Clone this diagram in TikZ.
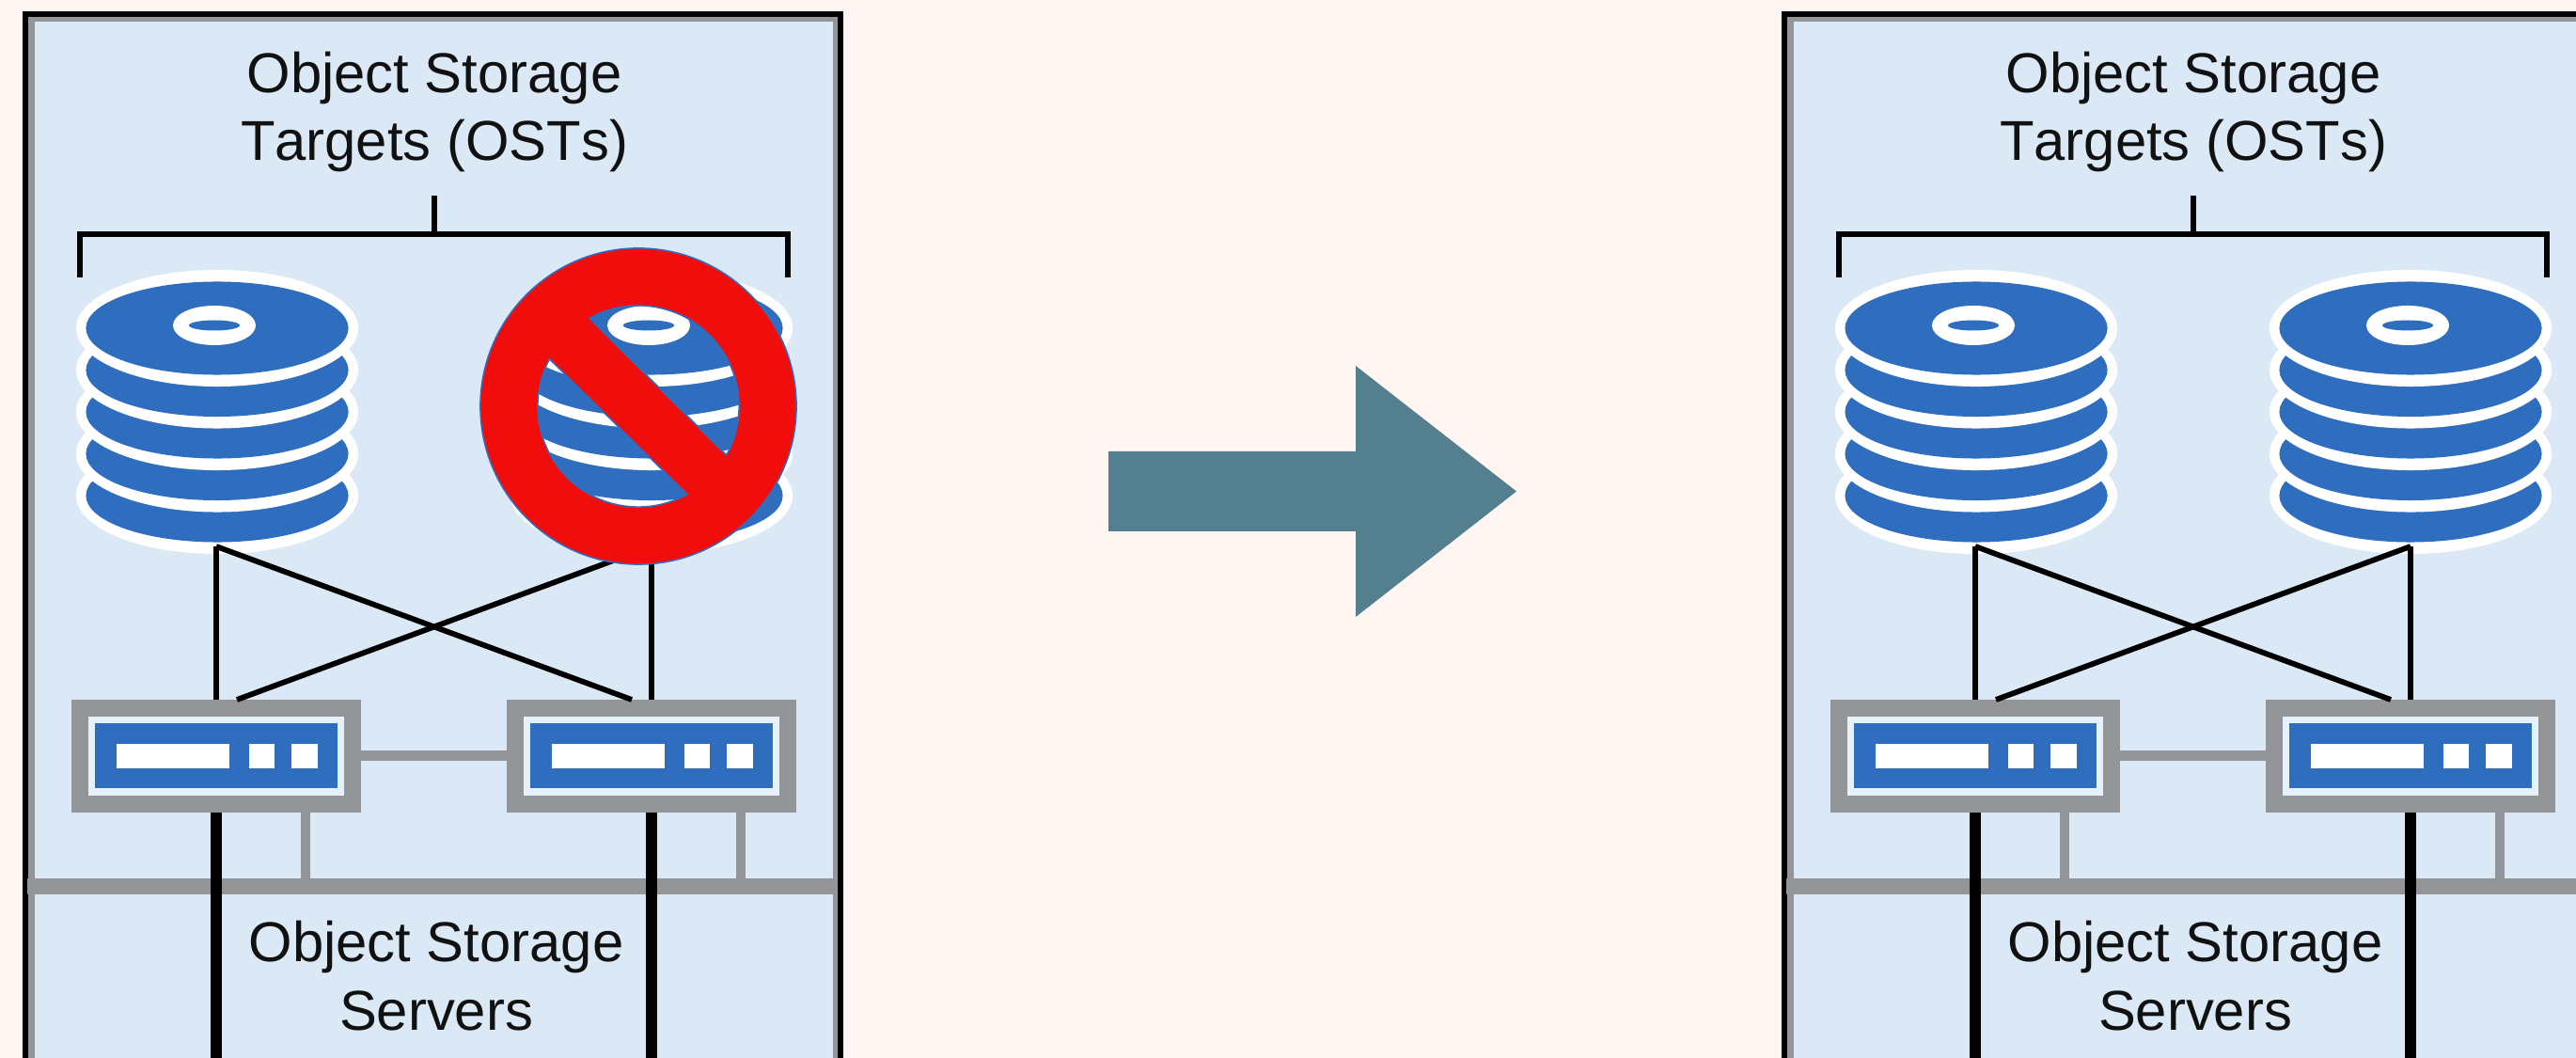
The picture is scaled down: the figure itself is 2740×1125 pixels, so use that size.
\documentclass[tikz,border=0pt]{standalone}
\usepackage{fontspec}
\setmainfont[Kerning=Off]{Liberation Sans}
\usetikzlibrary{calc}
\definecolor{pagebg}{HTML}{FFF5F2}
\definecolor{panelbg}{HTML}{DAE9F5}
\definecolor{diskblue}{HTML}{2F6EBF}
\definecolor{linkgrey}{HTML}{939598}
\definecolor{arrowteal}{HTML}{547F8F}
\definecolor{stopred}{HTML}{F20D0D}
\definecolor{inktext}{HTML}{111111}
\definecolor{srvfill}{HTML}{E6F2FB}
\tikzset{
  lbl/.style={anchor=base,inner sep=0pt,text=inktext,font=\fontsize{17}{20}\selectfont},
  thinlink/.style={draw=black,line width=0.058cm},
  heavylink/.style={draw=black,line width=0.115cm},
  greylink/.style={draw=linkgrey,line width=0.11cm},
  srvbox/.style={draw=linkgrey,fill=srvfill,line width=0.18cm,minimum width=2.90cm,minimum height=1.02cm,inner sep=0pt},
  srvface/.style={fill=diskblue,minimum width=2.57cm,minimum height=0.69cm,inner sep=0pt},
  srvlight/.style={fill=white,minimum height=0.26cm,inner sep=0pt},
  stackbox/.style={minimum width=3.00cm,minimum height=3.01cm,inner sep=0pt},
}
\newcommand{\diskstack}[2]{% name, centre x
  \node[stackbox] (#1) at (#2,437.5) {};
  \foreach \dy in {527,482.5,438,393.5,349}{
    \fill[white] (#2,\dy) ellipse [x radius=1.50cm,y radius=0.62cm];
    \fill[diskblue] (#2,\dy) ellipse [x radius=1.395cm,y radius=0.495cm];
  }
  \fill[white] (#2-3,346) ellipse [x radius=0.44cm,y radius=0.21cm];
  \fill[diskblue] (#2-3,346) ellipse [x radius=0.27cm,y radius=0.055cm];
}
\newcommand{\server}[2]{% name, centre x
  \node[srvbox] (#1) at (#2,804) {};
  \node[srvface] (#1f) at (#2,803.5) {};
  \node[srvlight,minimum width=1.20cm] (#1a) at (#2-46,804) {};
  \node[srvlight,minimum width=0.27cm] (#1b) at (#2+48.5,804) {};
  \node[srvlight,minimum width=0.28cm] (#1c) at (#2+94,804) {};
}
\newcommand{\ostpanel}[2]{% suffix, x shift
  \begin{scope}[shift={(#2,0)}]
    \fill[black] (24,12) rectangle (897,1140);
    \fill[linkgrey] (30,18) rectangle (891,1140);
    \fill[panelbg] (37,23) rectangle (886,1140);
    \node[lbl] (tA#1) at (462,99) {Object Storage};
    \node[lbl] (tB#1) at (462,171) {Targets (OSTs)};
    \coordinate (brL#1) at (85,295);
    \coordinate (brR#1) at (838,295);
    \coordinate (brT#1) at (462,208);
    \coordinate (brM#1) at (462,249);
    \draw[thinlink] (brL#1) |- (brR#1 |- brM#1) -- (brR#1);
    \draw[thinlink] (brT#1) -- (brM#1);
    \fill[linkgrey] (29,934) rectangle (891,951);
    \server{sA#1}{230}
    \server{sB#1}{693}
    \coordinate (bus#1) at (0,942.5);
    \draw[greylink] (sA#1.east |- 0,803.5) -- (sB#1.west |- 0,803.5);
    \draw[draw=linkgrey,line width=0.10cm] (324.5,864) coordinate (gA#1) -- (gA#1 |- bus#1);
    \draw[draw=linkgrey,line width=0.10cm] (787.5,864) coordinate (gB#1) -- (gB#1 |- bus#1);
    \coordinate (endA#1) at (230,1140);
    \coordinate (endB#1) at (693,1140);
    \draw[heavylink] (sA#1.south) -- (endA#1);
    \draw[heavylink] (sB#1.south) -- (endB#1);
    \diskstack{dA#1}{231}
    \diskstack{dB#1}{693}
    \coordinate (pA#1) at (230,581);
    \coordinate (pB#1) at (693,581);
    \coordinate (xA#1) at (252,744);
    \coordinate (xB#1) at (672,744);
    \draw[thinlink] (pA#1) -- (sA#1.north);
    \draw[thinlink] (pB#1) -- (sB#1.north);
    \draw[thinlink] (pA#1) -- (xB#1);
    \draw[thinlink] (pB#1) -- (xA#1);
    \node[lbl] (tC#1) at (464,1022) {Object Storage};
    \node[lbl] (tD#1) at (464,1095) {Servers};
  \end{scope}
}
\begin{document}
\begin{tikzpicture}[x=0.01cm,y=-0.01cm]
  \useasboundingbox (0,0) rectangle (2740,1125);
  \clip (0,0) rectangle (2740,1125);
  \fill[pagebg] (0,0) rectangle (2740,1125);
  \ostpanel{L}{0}
  \ostpanel{R}{1871}
  % no-entry sign
  \coordinate (stopc) at (679,432);
  \path[fill=stopred,draw=diskblue,line width=0.015cm,even odd rule]
    (stopc) circle [radius=1.68cm]
    ($(stopc)+(119:1.07cm)$) arc [start angle=119,end angle=-29,radius=1.07cm] -- cycle
    ($(stopc)+(152:1.07cm)$) arc [start angle=152,end angle=299,radius=1.07cm] -- cycle;
  % arrow
  \fill[arrowteal] (1179,480) -- (1442,480) -- (1442,389) -- (1613,522.5) -- (1442,656) -- (1442,565) -- (1179,565) -- cycle;
\end{tikzpicture}
\end{document}
